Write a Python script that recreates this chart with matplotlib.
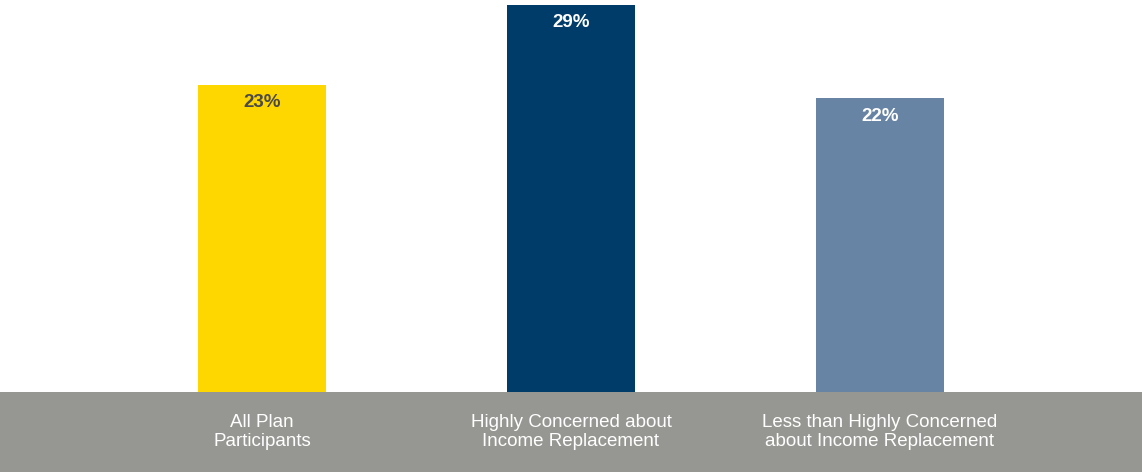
import matplotlib.pyplot as plt
from matplotlib.patches import Rectangle

categories = ["All Plan\nParticipants",
              "Highly Concerned about\nIncome Replacement",
              "Less than Highly Concerned\nabout Income Replacement"]
values = [23, 29, 22]
labels = ["23%", "29%", "22%"]
bar_colors = ["#ffd700", "#003c69", "#6784a4"]
label_colors = ["#4a4a4a", "white", "white"]

plt.rcParams["font.family"] = ["Liberation Sans", "DejaVu Sans"]

W, H = 1142, 472
fig = plt.figure(figsize=(W / 100, H / 100), dpi=100)

# grey footer band holding the category names
band_h = 80 / H
fig.patches.append(Rectangle((0, 0), 1, band_h, transform=fig.transFigure,
                             facecolor="#969792", edgecolor="none", zorder=0))

ax = fig.add_axes([0, band_h, 1, 1 - band_h])
ax.set_facecolor("none")
x = list(range(len(values)))
ax.bar(x, values, width=0.414, color=bar_colors)
ax.set_xlim(-0.848, 2.848)
ax.set_ylim(0, 29.35)
ax.axis("off")

for xi, v, lab, c in zip(x, values, labels, label_colors):
    ax.annotate(lab, (xi, v), xytext=(0, -18), textcoords="offset pixels",
                ha="center", va="center", fontsize=13.5, fontweight="bold", color=c)

# category names centred under each bar inside the band
for xi, cat in zip(x, categories):
    fx = (xi + 0.848) / 3.696
    fig.text(fx, (472 - 432) / H, cat, ha="center", va="center",
             fontsize=13.5, color="white", linespacing=1.2)

fig.savefig("out.png", dpi=100)
